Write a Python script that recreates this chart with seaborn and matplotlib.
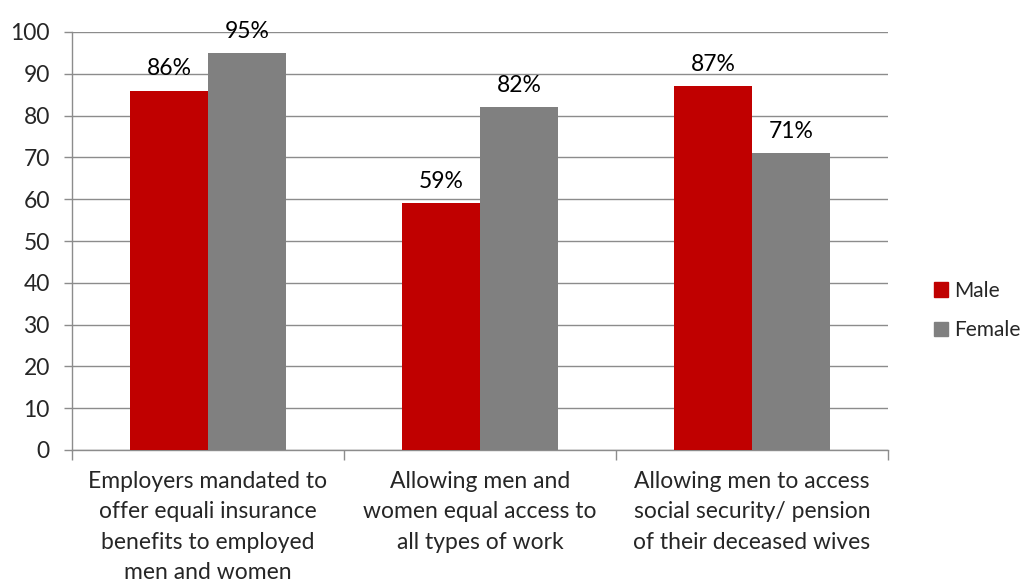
import matplotlib
matplotlib.use("Agg")
import matplotlib.pyplot as plt
import seaborn as sns
import pandas as pd
from matplotlib.patches import Patch

categories = ["Employers mandated to\noffer equali insurance\nbenefits to employed\nmen and women",
              "Allowing men and\nwomen equal access to\nall types of work",
              "Allowing men to access\nsocial security/ pension\nof their deceased wives"]
male = [86, 59, 87]
female = [95, 82, 71]
series = ["Male", "Female"]
colors = ["#C00000", "#808080"]
yticks = [0, 10, 20, 30, 40, 50, 60, 70, 80, 90, 100]

sns.set_theme(style="white")
plt.rcParams['font.family'] = ['Lato', 'DejaVu Sans']

df = pd.DataFrame({
    "cat": categories * 2,
    "val": male + female,
    "series": [series[0]] * 3 + [series[1]] * 3,
})

FS = 16.5
fig = plt.figure(figsize=(10.28, 5.86), dpi=100)
ax = fig.add_axes([72/1028, 1 - 450/586, (888-72)/1028, (450-32)/586])
sns.barplot(data=df, x="cat", y="val", hue="series", palette=colors,
            width=0.574, ax=ax, saturation=1, legend=False, zorder=3,
            linewidth=0, edgecolor="none")

ax.set_xlim(-0.5, 2.5)
ax.set_ylim(0, 100)
ax.set_yticks(yticks)
ax.set_yticklabels([str(t) for t in yticks], fontsize=FS)
ax.yaxis.grid(True, color="#8C8C8C", linewidth=1, zorder=0)
ax.set_axisbelow(True)
ax.set_xlabel("")
ax.set_ylabel("")

ax.set_xticks([0, 1, 2])
ax.set_xticklabels(categories, fontsize=FS, linespacing=1.55)
ax.tick_params(axis="x", length=0, pad=15)
ax.set_xticks([-0.5, 0.5, 1.5, 2.5], minor=True)
ax.tick_params(axis="x", which="minor", length=7, color="#8C8C8C", width=1, direction="out", bottom=True)
ax.tick_params(axis="y", length=6, color="#8C8C8C", width=1, direction="out", left=True, pad=10)

for s in ["top", "right"]:
    ax.spines[s].set_visible(False)
for s in ["left", "bottom"]:
    ax.spines[s].set_color("#8C8C8C")
    ax.spines[s].set_linewidth(1)

for cont in ax.containers:
    ax.bar_label(cont, labels=[f"{v:.0f}%" for v in cont.datavalues],
                 fontsize=FS, padding=8, color="black")

handles = [Patch(facecolor=c, edgecolor=c, label=s) for s, c in zip(series, colors)]
fig.legend(handles=handles, loc="center left", bbox_to_anchor=(0.894, 0.47),
           frameon=False, fontsize=15, handlelength=0.7, handleheight=0.7,
           handletextpad=0.3, labelspacing=0.95, borderpad=0.2)

fig.savefig("out.png", dpi=100)
